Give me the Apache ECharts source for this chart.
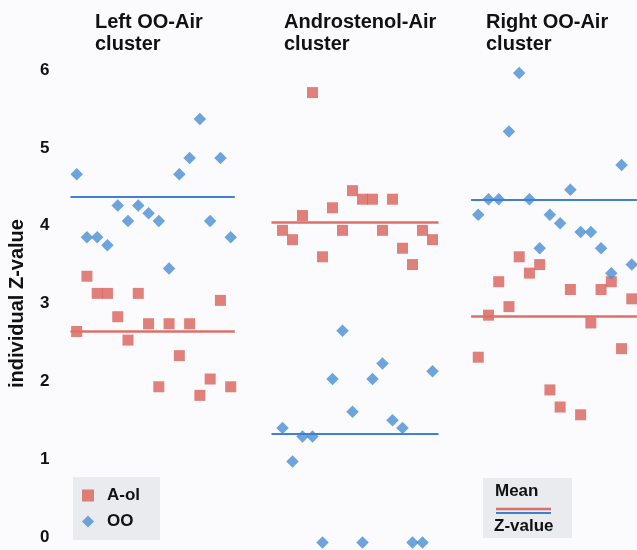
<!DOCTYPE html>
<html>
<head>
<meta charset="utf-8">
<script src="https://cdn.jsdelivr.net/npm/echarts@6/dist/echarts.min.js"></script>
<style>
  html, body { margin: 0; padding: 0; background: #fbfbfd; }
  #main { width: 637px; height: 550px; }
</style>
</head>
<body>
<div id="main"></div>
<script>
// values, one entry per animal (left to right)
var leftAol  = [2.64, 3.35, 3.13, 3.13, 2.83, 2.53, 3.13, 2.74, 1.93, 2.74, 2.33, 2.74, 1.82, 2.03, 3.04, 1.93];
var leftOO   = [4.66, 3.85, 3.85, 3.75, 4.26, 4.06, 4.26, 4.16, 4.06, 3.45, 4.66, 4.87, 5.37, 4.06, 4.87, 3.85];
var midAol   = [3.94, 3.82, 4.13, 5.71, 3.60, 4.23, 3.94, 4.45, 4.34, 4.34, 3.94, 4.34, 3.71, 3.50, 3.94, 3.82];
var midOO    = [1.40, 0.97, 1.29, 1.29, -0.07, 2.03, 2.65, 1.61, -0.07, 2.03, 2.23, 1.50, 1.40, -0.07, -0.07, 2.13];
var rightAol = [2.31, 2.85, 3.28, 2.96, 3.60, 3.39, 3.50, 1.89, 1.67, 3.18, 1.57, 2.75, 3.18, 3.28, 2.42, 3.06];
var rightOO  = [4.14, 4.34, 4.34, 5.21, 5.96, 4.34, 3.71, 4.14, 4.03, 4.46, 3.92, 3.92, 3.71, 3.39, 4.78, 3.50];
var meanAol  = [2.64, 4.04, 2.83];
var meanOO   = [4.37, 1.33, 4.33];
var panelTitles = ['Left OO-Air\ncluster', 'Androstenol-Air\ncluster', 'Right OO-Air\ncluster'];
var yTicks = [0, 1, 2, 3, 4, 5, 6];

var RED = '#d8615a';
var BLUE = '#4a8fd3';
var RED_LINE = '#dc7068';
var BLUE_LINE = '#3f80d2';
var FONT = 'Liberation Sans';

function pairs(arr) {
    return arr.map(function (v, i) { return [i, v]; });
}

var panels = [
    {aol: leftAol, oo: leftOO, left: 70.5, width: 164.3, xmin: -0.6, xmax: 15.4, titleLeft: 95},
    {aol: midAol, oo: midOO, left: 271.5, width: 167, xmin: -1.1, xmax: 15.6, titleLeft: 284},
    {aol: rightAol, oo: rightOO, left: 471.1, width: 165.8, xmin: -0.7, xmax: 15.5, titleLeft: 486}
];

var grids = [], xAxes = [], yAxes = [], series = [], titles = [];
panels.forEach(function (p, k) {
    grids.push({left: p.left, top: 70, width: p.width, height: 467});
    xAxes.push({type: 'value', gridIndex: k, min: p.xmin, max: p.xmax, show: false});
    yAxes.push({
        type: 'value', gridIndex: k, min: yTicks[0], max: yTicks[yTicks.length - 1], interval: 1,
        show: k === 0,
        axisLine: {show: false},
        axisTick: {show: false},
        splitLine: {show: false},
        axisLabel: {
            margin: 21, color: '#111', fontSize: 17, fontWeight: 'bold', fontFamily: FONT
        },
        name: k === 0 ? 'individual Z-value' : '',
        nameLocation: 'middle',
        nameRotate: 90,
        nameGap: 43,
        nameTextStyle: {color: '#111', fontSize: 20, fontWeight: 'bold', fontFamily: FONT}
    });
    titles.push({
        text: panelTitles[k], left: p.titleLeft, top: 11, padding: 0,
        textStyle: {color: '#111', fontSize: 20, fontWeight: 'bold', lineHeight: 22, fontFamily: FONT}
    });
    series.push({
        name: 'A-ol', type: 'scatter', xAxisIndex: k, yAxisIndex: k,
        symbol: 'rect', symbolSize: 11, clip: false,
        itemStyle: {color: RED},
        data: pairs(p.aol),
        markLine: {
            silent: true, symbol: 'none', label: {show: false},
            lineStyle: {color: RED_LINE, type: 'solid', width: 2.5},
            data: [{yAxis: meanAol[k]}]
        }
    });
    series.push({
        name: 'OO', type: 'scatter', xAxisIndex: k, yAxisIndex: k,
        symbol: 'diamond', symbolSize: 12.5, clip: false,
        itemStyle: {color: BLUE},
        data: pairs(p.oo),
        markLine: {
            silent: true, symbol: 'none', label: {show: false},
            lineStyle: {color: BLUE_LINE, type: 'solid', width: 2},
            data: [{yAxis: meanOO[k]}]
        }
    });
});

var chart = echarts.init(document.getElementById('main'));
chart.setOption({
    backgroundColor: '#fbfbfd',
    animation: false,
    title: titles,
    grid: grids,
    xAxis: xAxes,
    yAxis: yAxes,
    legend: {
        data: [{name: 'A-ol', icon: 'rect'}, {name: 'OO', icon: 'diamond'}],
        orient: 'vertical',
        left: 73, top: 477,
        backgroundColor: '#e9ebee',
        padding: [10, 20, 10, 9],
        itemWidth: 12, itemHeight: 12, itemGap: 9,
        selectedMode: false,
        textStyle: {color: '#111', fontSize: 17, fontWeight: 'bold', fontFamily: FONT, padding: [0, 0, 0, 8]}
    },
    graphic: [
        {type: 'rect', left: 483, top: 478, shape: {width: 89, height: 60}, style: {fill: '#e9ebee'}},
        {type: 'text', left: 495, top: 483, style: {text: 'Mean', fill: '#111', font: 'bold 17px "Liberation Sans"'}},
        {type: 'line', shape: {x1: 496, y1: 509, x2: 551, y2: 509}, style: {stroke: RED_LINE, lineWidth: 2.5}},
        {type: 'line', shape: {x1: 496, y1: 513, x2: 551, y2: 513}, style: {stroke: BLUE_LINE, lineWidth: 2}},
        {type: 'text', left: 494, top: 518, style: {text: 'Z-value', fill: '#111', font: 'bold 17px "Liberation Sans"'}}
    ],
    series: series
});
</script>
</body>
</html>
